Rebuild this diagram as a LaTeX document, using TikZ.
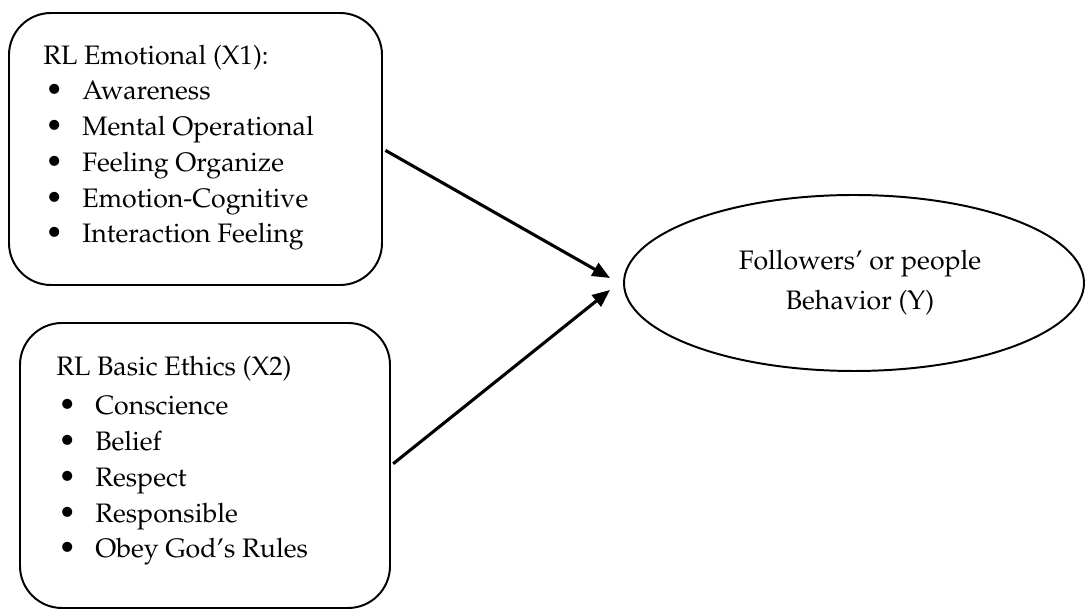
\documentclass[tikz,border=0pt]{standalone}
\usepackage[T1]{fontenc}
\usepackage{mathpazo}
\usepackage{tikz}
\usetikzlibrary{arrows.meta,shapes.geometric,positioning}
\tikzset{
    factor/.style={
    rectangle,rounded corners=1.05cm,draw=black,line width=1.4pt
    },
    outcome/.style={
    ellipse,draw=black,line width=1.4pt,align=center,inner sep=0pt
    },
    listtext/.style={
    inner sep=0pt,anchor=base west
    },
    effect/.style={
    ->,line width=2.2pt,shorten <=2pt
    },
}
\newcommand{\bulletline}[1]{\hspace*{0.05cm}\makebox[0.925cm][l]{{\fontsize{21}{25}\selectfont\textbullet}}#1}

\begin{document}
\begin{tikzpicture}[>={Triangle[length=0.44cm,width=0.36cm]}, font=\fontsize{19}{25.4}\selectfont]
   \useasboundingbox (0,0) rectangle (27.125,15.3);
   \node[factor,minimum width=9.325cm,minimum height=6.8cm] (emo) at (4.8875,11.575) {};
   \node[factor,minimum width=9.25cm,minimum height=7.125cm] (eth) at (5.125,3.6625) {};
   \node[outcome,minimum width=11.5cm,minimum height=4.4cm,font=\fontsize{19}{28.5}\selectfont] (bhv) at (21.35,8.225) {\hspace*{0.3cm}Followers' or people\\\hspace*{0.3cm}Behavior (Y)};

   \node[listtext] (emolist) at (1.075,13.675) {\begin{tabular}[t]{@{}l@{}}
      RL Emotional (X1):\\[-0.5pt]
      \bulletline{Awareness}\\
      \bulletline{Mental Operational}\\
      \bulletline{Feeling Organize}\\
      \bulletline{Emotion-Cognitive}\\
      \bulletline{Interaction Feeling}
   \end{tabular}};
   \node[listtext] (ethlist) at (1.4,5.9) {\begin{tabular}[t]{@{}l@{}}
      RL Basic Ethics (X2)\\[2.3pt]
      \bulletline{Conscience}\\
      \bulletline{Belief}\\
      \bulletline{Respect}\\
      \bulletline{Responsible}\\
      \bulletline{Obey God's Rules}
   \end{tabular}};

   \coordinate (in1) at ([xshift=-0.325cm,yshift=0.125cm]bhv.west);
   \coordinate (in2) at ([xshift=-0.325cm,yshift=-0.175cm]bhv.west);

  \path[effect]
    (emo.east) edge node {} (in1)
    (eth.east) edge node {} (in2);
  \end{tikzpicture}
\end{document}
